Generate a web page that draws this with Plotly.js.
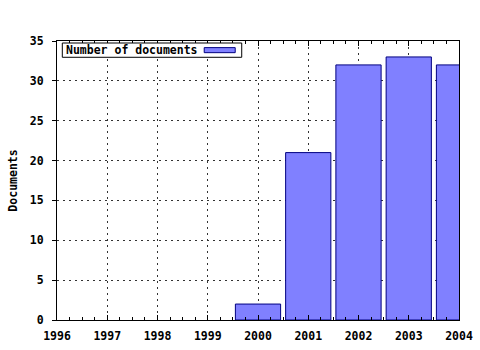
<!DOCTYPE html>
<html>
<head>
<meta charset="utf-8">
<script src="https://cdn.plot.ly/plotly-3.0.1.min.js"></script>
<style>html,body{margin:0;padding:0;background:#fff;}#chart{width:480px;height:350px;}</style>
</head>
<body>
<div id="chart"></div>
<script>
var years = [2000, 2001, 2002, 2003, 2004];
var documents = [2, 21, 32, 33, 32];
var seriesName = 'Number of documents';
var yTitle = 'Documents';
var xTickVals = [1996, 1997, 1998, 1999, 2000, 2001, 2002, 2003, 2004];
var yTickVals = [0, 5, 10, 15, 20, 25, 30, 35];

var FONT = {family: '"DejaVu Sans Mono", "Liberation Mono", monospace', size: 11.5, color: '#000', weight: 'bold'};

var trace = {
  type: 'bar',
  x: years,
  y: documents,
  name: seriesName,
  width: 0.9,
  marker: {color: '#8080ff', line: {color: '#000080', width: 1}},
  showlegend: false,
  hoverinfo: 'none'
};

var layout = {
  width: 480, height: 350,
  margin: {l: 57, r: 21, t: 41, b: 30, pad: 0},
  paper_bgcolor: '#fff', plot_bgcolor: '#fff',
  font: FONT,
  showlegend: false,
  xaxis: {
    range: [1996, 2004],
    tickvals: xTickVals,
    ticktext: xTickVals.map(String),
    ticks: 'inside', ticklen: 5, tickcolor: '#000', tickwidth: 1,
    minor: {dtick: 0.25, ticks: 'inside', ticklen: 3, tickcolor: '#000', showgrid: false},
    showline: true, linecolor: '#000', linewidth: 1, mirror: 'allticks',
    showgrid: true, gridcolor: '#333', griddash: '2px,4px', gridwidth: 1,
    zeroline: false,
    tickfont: FONT,
    ticklabelstandoff: 5,
    fixedrange: true
  },
  yaxis: {
    range: [0, 35],
    tickvals: yTickVals,
    ticks: 'outside', ticklen: 4, tickcolor: '#000', tickwidth: 1,
    showline: true, linecolor: '#000', linewidth: 1, mirror: true,
    showgrid: true, gridcolor: '#333', griddash: '2px,4px', gridwidth: 1,
    zeroline: false,
    tickfont: FONT,
    ticklabelstandoff: 6,
    title: {text: yTitle, font: FONT, standoff: 9},
    fixedrange: true
  },
  shapes: [
    {type: 'rect', xref: 'paper', yref: 'paper', x0: 0.0132, x1: 0.4595, y0: 0.9416, y1: 0.9928,
     line: {color: '#000', width: 1}, fillcolor: '#fff', layer: 'above'},
    {type: 'rect', xref: 'paper', yref: 'paper', x0: 0.3662, x1: 0.4433, y0: 0.9582, y1: 0.9763,
     line: {color: '#000080', width: 1}, fillcolor: '#8080ff', layer: 'above'}
  ],
  annotations: [
    {xref: 'paper', yref: 'paper', x: 0.0182, y: 0.9672, xanchor: 'left', yanchor: 'middle',
     text: seriesName, showarrow: false, font: FONT}
  ]
};

Plotly.newPlot('chart', [trace], layout, {staticPlot: true, displayModeBar: false});
</script>
</body>
</html>
